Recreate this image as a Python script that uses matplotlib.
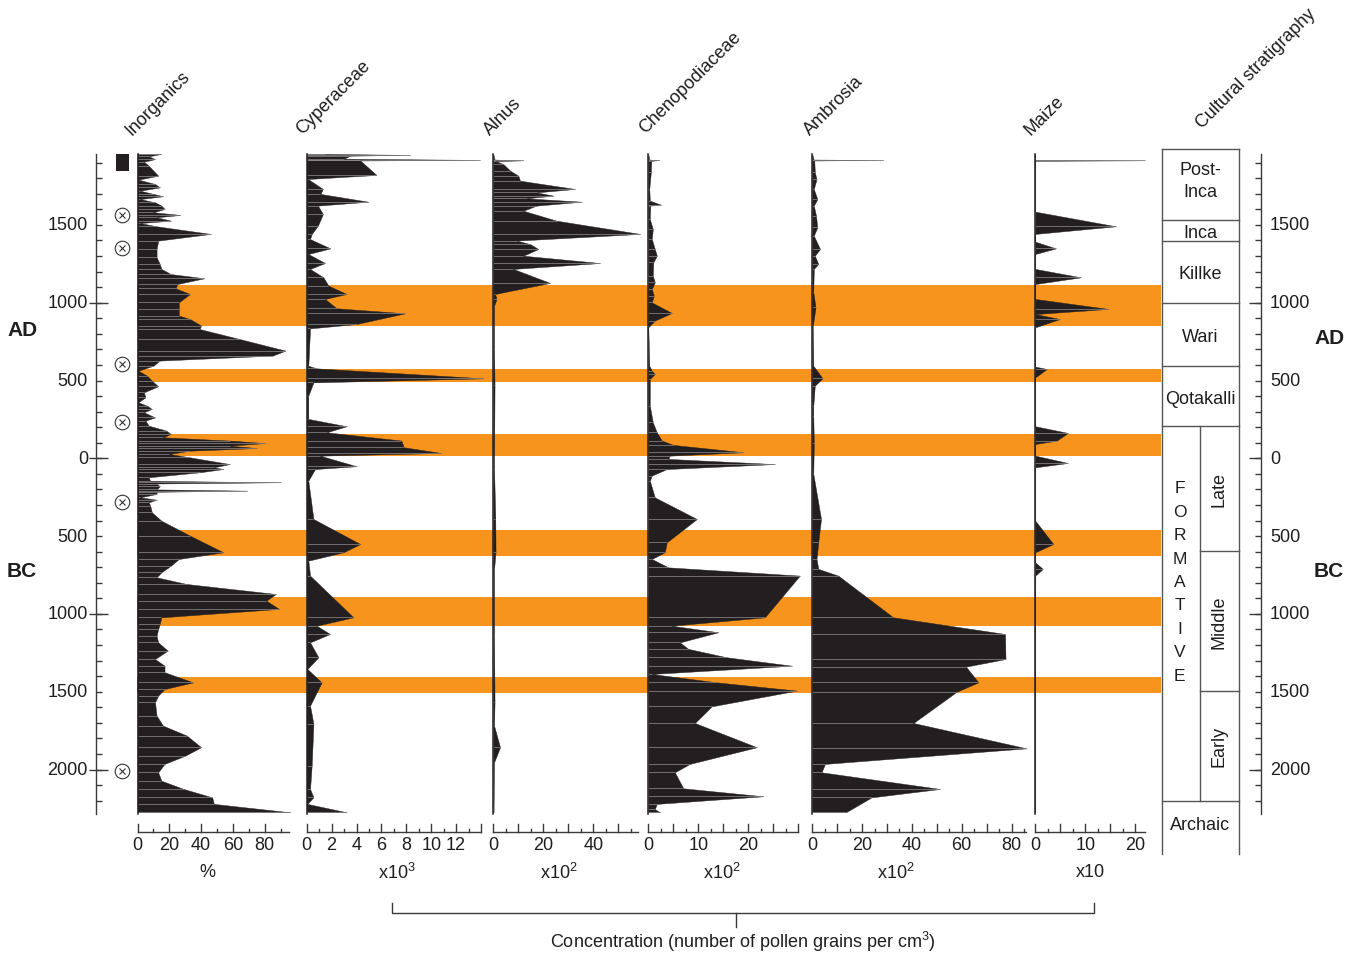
import numpy as np
import matplotlib
matplotlib.use('Agg')
import matplotlib.pyplot as plt
from matplotlib.patches import Rectangle

plt.rcParams['font.family'] = ['Liberation Sans', 'DejaVu Sans']

# ---------------- data (calendar years: AD positive, BC negative) ----------------
inorg_yr = [1956, 1941, 1923, 1906, 1881, 1816, 1791, 1763, 1741, 1720,
            1699, 1684, 1666, 1645, 1624, 1602, 1581, 1564, 1549, 1527,
            1512, 1491, 1442, 1399, 1345, 1292, 1249, 1217, 1184, 1157,
            1120, 1092, 1056, 1002, 960, 917, 895, 853, 831, 767,
            692, 660, 628, 595, 563, 531, 499, 463, 424, 392,
            360, 338, 317, 296, 263, 242, 210, 178, 156, 135,
            114, 98, 81, 66, 49, 28, 6, -37, -58, -69,
            -90, -122, -145, -154, -162, -180, -200, -208, -215, -229,
            -251, -266, -283, -304, -347, -401, -497, -604, -647, -690,
            -733, -765, -808, -872, -915, -968, -1022, -1065, -1097, -1140,
            -1183, -1236, -1290, -1333, -1375, -1440, -1483, -1525, -1568, -1654,
            -1718, -1782, -1857, -1911, -1964, -2018, -2072, -2125, -2179, -2221,
            -2275]
inorg_val = [15, 7, 11, 4, 7, 13, 0.5, 11, 14, 1.6,
             10, 16, 1.6, 11, 15, 17, 10, 27, 12, 21,
             1.6, 12, 46, 13, 12, 12, 14, 15, 21, 42,
             25, 24, 33, 26, 26, 26, 33, 40, 39, 64,
             93, 85, 14, 10, 0.5, 6, 9, 13, 4, 5,
             0.5, 6, 9, 4, 11, 5, 7, 18, 21, 16,
             58, 80, 58, 75, 33, 20, 33, 58, 48, 54,
             39, 7, 8, 90, 12, 14, 12, 69, 12, 12,
             1.6, 12, 7, 8, 9, 15, 33, 54, 26, 21,
             15, 12, 31, 87, 81, 89, 15, 14, 13, 12,
             13, 19, 11, 17, 17, 35, 17, 13, 11, 12,
             16, 31, 40, 30, 17, 13, 15, 29, 47, 48,
             96]

cyper_yr = [1956, 1950, 1945, 1925, 1918, 1914, 1821, 1795, 1731, 1699,
            1649, 1624, 1570, 1495, 1442, 1409, 1349, 1313, 1255, 1217,
            1163, 1110, 1056, 1024, 964, 932, 863, 835, 595, 578,
            514, 488, 403, 253, 206, 167, 114, 71, 34, 17,
            -51, -69, -144, -390, -551, -604, -658, -754, -1022, -1076,
            -1129, -1183, -1279, -1354, -1440, -1590, -1707, -1975, -2125, -2179,
            -2221, -2275]
cyper_val = [1.5, 8.3, 3.5, 3.0, 13.9, 4.3, 5.6, 0.1, 1.3, 1.1,
             4.95, 0.9, 1.3, 0.9, 0.4, 0.27, 1.9, 0.13, 1.47, 0.27,
             1.34, 1.74, 3.2, 1.47, 2.4, 7.9, 4.0, 0.27, 0.13, 0.8,
             14.2, 0.54, 0.13, 0.13, 3.2, 1.6, 7.6, 7.8, 10.8, 1.07,
             4.0, 0.67, 0.13, 0.54, 4.3, 2.95, 0.13, 0.27, 3.75, 0.8,
             1.87, 0.27, 0.94, 0.05, 1.2, 0.27, 0.54, 0.4, 0.27, 0.54,
             0.05, 3.2]

alnus_yr = [1956, 1920, 1915, 1910, 1891, 1849, 1816, 1784, 1731, 1709,
            1688, 1671, 1649, 1624, 1591, 1527, 1442, 1399, 1377, 1345,
            1302, 1255, 1217, 1127, 1056, 1024, 981, 700, 470, -69,
            -390, -604, -711, -1140, -1568, -1718, -1857, -1954, -2275]
alnus_val = [0, 0.5, 12, 1, 4, 6.7, 10, 10.7, 32.7, 17.3,
             24, 13.3, 35.3, 17.3, 12, 25.3, 58.7, 9.3, 14.7, 18,
             12, 42.7, 8, 22.7, 0.7, 1.3, 0.3, 0.3, 0.5, 0.3,
             0.8, 0.9, 0.3, 0.3, 0.5, 0.3, 2.7, 0.3, 0.1]

cheno_yr = [1956, 1920, 1917, 1912, 1838, 1731, 1656, 1630, 1624, 1538,
            1474, 1409, 1345, 1302, 1259, 1174, 1131, 1088, 1045, 1002,
            934, 885, 842, 595, 563, 542, 510, 338, 231, 167,
            114, 86, 39, 17, -4, -37, -69, -111, -144, -251,
            -390, -540, -604, -647, -701, -754, -1022, -1076, -1118, -1183,
            -1225, -1279, -1333, -1386, -1440, -1493, -1594, -1701, -1857, -1964,
            -2018, -2121, -2172, -2221, -2254, -2275]
cheno_val = [0, 0.2, 2.2, 0.6, 0.5, 0.2, 0.3, 2.5, 0.4, 0.3,
             0.9, 0.7, 1.3, 1.7, 1.0, 0.9, 1.3, 0.7, 1.1, 0.7,
             4.7, 1.3, 0, 0.2, 0.7, 1.3, 0.3, 0.3, 0.9, 1.7,
             2.7, 5, 19, 4.3, 4, 25.3, 3.7, 0.7, 0.3, 1.3,
             9.7, 3.7, 3.3, 0.7, 4, 30.3, 23.3, 4.7, 14, 6.3,
             8, 15.7, 28.7, 0.7, 13.7, 29.7, 12.7, 9.3, 21.7, 8.3,
             5.3, 7, 23, 1.7, 1.3, 2.3]

ambro_yr = [1956, 1920, 1917, 1914, 1838, 1795, 1731, 1666, 1624, 1559,
            1484, 1431, 1345, 1302, 1249, 1217, 1067, 970, 852, 595,
            514, 467, 338, 274, 100, -100, -390, -540, -647, -711,
            -754, -1022, -1129, -1290, -1339, -1440, -1500, -1701, -1864, -1964,
            -2018, -2125, -2179, -2275]
ambro_val = [0, 0.5, 28.5, 0.8, 1.0, 1.7, 0.6, 2.0, 0.6, 1.5,
             2.0, 0.6, 3.1, 1.0, 2.4, 0.6, 0.4, 1.3, 0.2, 0.4,
             4.1, 1.0, 0.4, 0.4, 0.6, 0.4, 3.5, 2.4, 1.7, 2.4,
             10.4, 32.5, 77.4, 77.6, 61.7, 66.7, 58, 40.6, 86, 5.1,
             3.7, 51.3, 23.8, 13.5]

maize_yr = [1956, 1918, 1915, 1912, 1585, 1491, 1442, 1392, 1349, 1313,
            1217, 1163, 1120, 1024, 960, 927, 895, 842, 589, 574,
            520, 206, 163, 114, 92, 17, -30, -58, -401, -551,
            -604, -669, -711, -754, -2275]
maize_val = [0, 0, 21.9, 0, 0, 16.1, 0, 0, 4.1, 0,
             0, 9.1, 0, 0, 14.6, 0, 4.9, 0, 0, 2.3,
             0, 0, 6.5, 4.3, 0, 0, 6.5, 0, 0, 3.6,
             0, 0, 1.5, 0, 0]

# highlighted intervals (years)
band_top = [1115, 574, 156, -459, -891, -1404]
band_bot = [848, 492, 17, -626, -1080, -1510]

# radiocarbon dates (years) and cultural periods
date_yr = [1564, 1351, 606, 233, -281, -2009]
culture_names = ['Post-Inca', 'Inca', 'Killke', 'Wari', 'Qotakalli']
culture_bounds = [1988, 1532, 1399, 1000, 590, 205]
formative_bounds = [205, -598, -1497, -2200]
formative_sub = ['Late', 'Middle', 'Early']

names = ['Inorganics', 'Cyperaceae', 'Alnus', 'Chenopodiaceae', 'Ambrosia', 'Maize']
units = ['%', 'x10$^{3}$', 'x10$^{2}$', 'x10$^{2}$', 'x10$^{2}$', 'x10']
tick_labels = [[0, 20, 40, 60, 80], [0, 2, 4, 6, 8, 10, 12], [0, 20, 40],
               [0, 10, 20], [0, 20, 40, 60, 80], [0, 10, 20]]

# ---------------- layout ----------------
plt.rcParams['mathtext.fontset'] = 'custom'
plt.rcParams['mathtext.rm'] = 'Liberation Sans'
plt.rcParams['mathtext.default'] = 'regular'

W, H = 1357, 954
fig = plt.figure(figsize=(W / 100, H / 100), dpi=100)
DARK = '#231f20'
ORANGE = '#f7941d'
GREY = '#3a3a3a'
TXT = '#1e1e1e'
FS = 13


def yr(p):
    return (459.3 - p) / 0.1556


YTOP, YBOT = yr(155), yr(815)


def add_px(x0, x1, z=1):
    ax = fig.add_axes([x0 / W, 1 - 815 / H, (x1 - x0) / W, 660 / H], zorder=z)
    ax.set_ylim(YBOT, YTOP)
    ax.axis('off')
    return ax


# orange bands
bax = add_px(136.5, 1161, z=0)
bax.set_xlim(0, 1)
for a, b in zip(band_top, band_bot):
    bax.axhspan(b, a, color=ORANGE, lw=0)

panels = [
    # base px, px per unit, axis end, minor step, major step
    (137.5, 1.59, 95, 10, 20),
    (306.7, 12.45, 14, 1, 2),
    (493.3, 2.5, 58, 5, 10),
    (648.3, 5.0, 30, 2.5, 5),
    (812.3, 2.49, 86, 5, 10),
    (1035.3, 5.0, 22, 2.5, 5),
]
series = [(inorg_yr, inorg_val), (cyper_yr, cyper_val), (alnus_yr, alnus_val),
          (cheno_yr, cheno_val), (ambro_yr, ambro_val), (maize_yr, maize_val)]

yA = yr(833.5)
for (base, sc, xend, mn, mj), (ys, vs), tl in zip(panels, series, tick_labels):
    ax = add_px(base, base + xend * sc, z=2)
    ax.set_xlim(0, xend)
    ax.fill_betweenx(ys, 0, vs, color=DARK, lw=0.3, clip_on=False)
    ax.hlines(ys, 0, vs, color='#8f8f8f', lw=0.5, clip_on=False)
    ax.plot([0, 0], [YBOT, YTOP], color=DARK, lw=1.1, clip_on=False)
    # bottom scale
    ax.plot([0, xend], [yA, yA], color=GREY, lw=1.0, clip_on=False)
    for t in np.arange(0, xend + 1e-6, mn):
        tall = abs(t / mj - round(t / mj)) < 1e-6
        ax.plot([t, t], [yA, yr(825.5 if tall else 829.5)], color=GREY,
                lw=1.0, clip_on=False)
    for t in tl:
        ax.text(t, yr(846), str(t), ha='center', va='center', fontsize=FS,
                color=TXT, clip_on=False)

# left time scale
lax = add_px(0, 137, z=3)
lax.set_xlim(0, 137)
lax.plot([96, 96], [YBOT, YTOP], color=GREY, lw=1.0, clip_on=False)
minor_t = np.arange(-2200, 1901, 100)
lax.hlines(minor_t, 96, 102, color=GREY, lw=1.0)
lax.hlines([-2000, -1000, 0, 1000], 89, 108, color=GREY, lw=1.0)
for v in range(-2000, 1501, 500):
    lax.text(88, v, str(abs(v)), ha='right', va='center', fontsize=FS, color=TXT)
lax.plot([122] * len(date_yr), date_yr, 'o', mfc='none', mec='#333333', ms=10.5, mew=0.8)
lax.plot([122] * len(date_yr), date_yr, 'x', color='#333333', ms=5, mew=0.8)
lax.add_patch(Rectangle((116, yr(172)), 13, yr(155) - yr(172), color=DARK, lw=0))

# right time scale
rax = add_px(1240, 1357, z=3)
rax.set_xlim(1240, 1357)
rax.plot([1261, 1261], [YBOT, YTOP], color=GREY, lw=1.0, clip_on=False)
rax.hlines(minor_t, 1255, 1261, color=GREY, lw=1.0)
rax.hlines([-2000, -1000, 0, 1000], 1249, 1261, color=GREY, lw=1.0)
for v in range(-2000, 1501, 500):
    rax.text(1270, v, str(abs(v)), ha='left', va='center', fontsize=FS, color=TXT)

# cultural stratigraphy column
X0, X1, XM = 1161.7, 1239.3, 1200.3
cax = add_px(X0, X1, z=3)
cax.set_xlim(X0, X1)
CL = dict(color='#555555', lw=1.0, clip_on=False)
ybottom = yr(855)
cax.plot([X0, X0], [ybottom, culture_bounds[0]], **CL)
cax.plot([X1, X1], [ybottom, culture_bounds[0]], **CL)
for b in culture_bounds + [formative_bounds[-1]]:
    cax.plot([X0, X1], [b, b], **CL)
cax.plot([XM, XM], [formative_bounds[-1], formative_bounds[0]], **CL)
for b in formative_bounds[1:3]:
    cax.plot([XM, X1], [b, b], **CL)
XC = 0.5 * (X0 + X1)
for i, nm in enumerate(culture_names):
    mid = 0.5 * (culture_bounds[i] + culture_bounds[i + 1])
    if i == 0:
        a, b = nm.split('-')
        cax.text(XC, yr(170), a + '-', ha='center', va='center', fontsize=FS,
                 color=TXT, clip_on=False)
        cax.text(XC, yr(192), b, ha='center', va='center', fontsize=FS,
                 color=TXT, clip_on=False)
        continue
    cax.text(XC, mid - 15, nm, ha='center', va='center', fontsize=FS,
             color=TXT, clip_on=False)
letters = 'FORMATIVE'
for i, ch in enumerate(letters):
    cax.text(1179.5, yr(489 + i * 23.4), ch, ha='center', va='center', fontsize=12.5,
             color=TXT)
for i, nm in enumerate(formative_sub):
    mid = 0.5 * (formative_bounds[i] + formative_bounds[i + 1])
    cax.text(0.5 * (XM + X1) - 0.5, mid, nm, ha='center', va='center', fontsize=FS,
             rotation=90, color=TXT)
cax.text(XC, yr(826), 'Archaic', ha='center', va='center', fontsize=FS,
         color=TXT, clip_on=False)

# overlay for headers and annotations
oax = fig.add_axes([0, 0, 1, 1], zorder=5)
oax.set_xlim(0, W)
oax.set_ylim(H, 0)
oax.axis('off')
head_xy = [(132, 136), (302, 135), (490, 136), (645, 134), (810, 136), (1031, 136)]
for nm, (hx, hy) in zip(names, head_xy):
    oax.text(hx, hy, nm, rotation=45, rotation_mode='anchor', ha='left', va='baseline',
             fontsize=FS, color=TXT)
oax.text(1202, 129, 'Cultural stratigraphy', rotation=45, rotation_mode='anchor',
         ha='left', va='baseline', fontsize=FS, color=TXT)
unit_x = [207, 397, 559, 722, 896, 1090]
for u, ux in zip(units, unit_x):
    oax.text(ux, 873, u, ha='center', va='center', fontsize=FS, color=TXT)
oax.text(23, 331, 'AD', ha='center', va='center', fontsize=15, fontweight='bold', color=TXT)
oax.text(22, 572, 'BC', ha='center', va='center', fontsize=15, fontweight='bold', color=TXT)
oax.text(1330, 339, 'AD', ha='center', va='center', fontsize=15, fontweight='bold', color=TXT)
oax.text(1329, 572, 'BC', ha='center', va='center', fontsize=15, fontweight='bold', color=TXT)
# bracket
oax.plot([392, 392, 1094, 1094], [904, 914, 914, 904], color=GREY, lw=1.0)
oax.plot([736, 736], [914, 928], color=GREY, lw=1.0)
oax.text(743, 942, 'Concentration (number of pollen grains per cm$^{3}$)', ha='center',
         va='center', fontsize=FS, color=TXT)

fig.savefig('out.png', dpi=100)
